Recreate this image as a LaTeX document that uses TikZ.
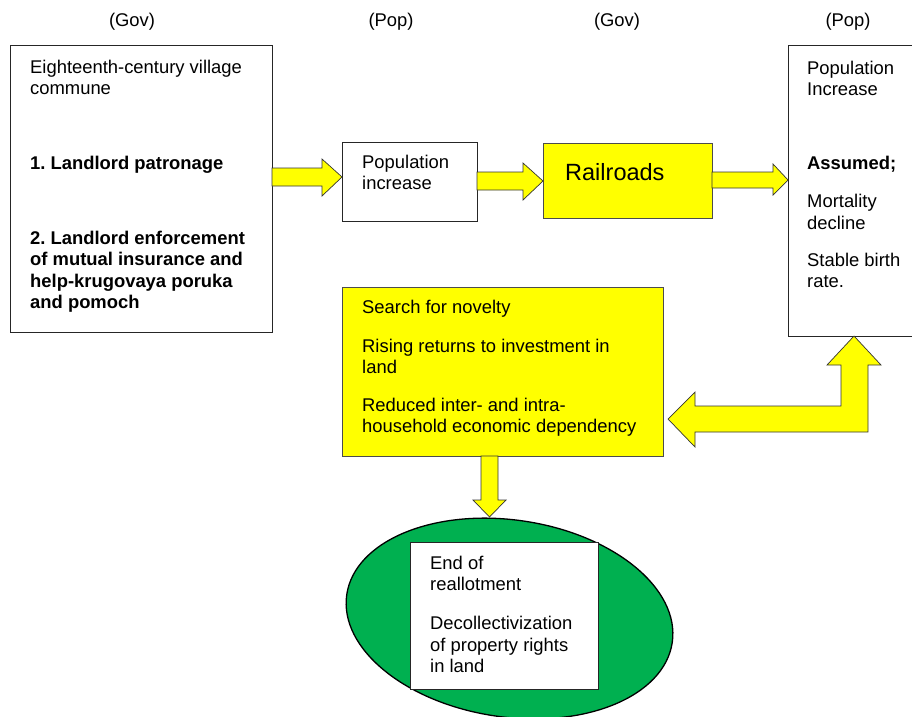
\documentclass[tikz,border=0pt]{standalone}
\usepackage{fontspec}
\setmainfont{Liberation Sans}
\usetikzlibrary{shapes.geometric}
\definecolor{hiyellow}{HTML}{FFFF00}
\definecolor{fieldgreen}{HTML}{00B050}

\begin{document}
\frenchspacing
\begin{tikzpicture}[x=1pt,y=-1pt,
  panel/.style={draw=black!85, line width=0.8pt, fill=white, inner sep=0pt, outer sep=0pt, anchor=north west},
  hipanel/.style={panel, fill=hiyellow, draw=black!70},
  % multi-line texts are placed by the baseline of their last line
  body/.style={anchor=base west, align=left, inner sep=0pt, font=\fontsize{18.4}{21.5}\selectfont},
  head/.style={anchor=base, inner sep=0pt, font=\fontsize{18.4}{21.5}\selectfont},
  blockarrow/.style={fill=hiyellow, draw=black!80, line width=0.7pt, line join=miter},
]
\useasboundingbox (0,0) rectangle (912,716);

% column headings
\node[head] (h1) at (132,26) {(Gov)};
\node[head] (h2) at (391,26) {(Pop)};
\node[head] (h3) at (617,26) {(Gov)};
\node[head] (h4) at (848,26) {(Pop)};

% boxes
\node[panel, minimum width=262pt, minimum height=287pt] (commune) at (10,45) {};
\node[panel, minimum width=135pt, minimum height=79pt] (popinc) at (342,142) {};
\node[hipanel, minimum width=169pt, minimum height=75pt] (rail) at (543,143) {};
\node[panel, minimum width=130pt, minimum height=291pt] (popright) at (788,45) {};
\node[hipanel, minimum width=321pt, minimum height=169pt] (novelty) at (342,287) {};

% texts
\node[body] (communetext) at (30,308.5) {Eighteenth-century village\\commune\\[53pt]
  \textbf{1. Landlord patronage}\\[53.5pt]
  \textbf{2. Landlord enforcement}\\\textbf{of mutual insurance and}\\
  \textbf{help-krugovaya poruka}\\\textbf{and pomoch}};
\node[body] (popinctext) at (362,189.5) {Population\\increase};
\node[body, font=\fontsize{23.5}{27}\selectfont] (railtext) at (565,180) {Railroads};
\node[body] (poprighttext) at (807,287.5) {Population\\Increase\\[52.5pt]
  \textbf{Assumed;}\\[16.5pt]Mortality\\decline\\[15.5pt]Stable birth\\rate.};
\node[body] (noveltytext) at (362,432.5) {Search for novelty\\[17.5pt]
  Rising returns to investment in\\land\\[16pt]
  Reduced inter- and intra-\\household economic dependency};

% outcome: ellipse with its box
\node[ellipse, draw=black, line width=1.3pt, fill=fieldgreen, inner sep=0pt,
      minimum width=329pt, minimum height=197pt, rotate=-8.4] (landellipse) at (509.5,618.5) {};
\node[panel, minimum width=188pt, minimum height=147pt] (reallot) at (410,542) {};
\node[body] (reallottext) at (430,672.5) {End of\\reallotment\\[17.5pt]
  Decollectivization\\of property rights\\in land};

% block arrows
\draw[blockarrow] (commune.east |- 0,168) -- (322,168) -- (322,159) -- (popinc.west |- 0,177)
  -- (322,196) -- (322,186) -- (commune.east |- 0,186) -- cycle;
\draw[blockarrow] (popinc.east |- 0,172) -- (523,172) -- (523,163) -- (rail.west |- 0,181)
  -- (523,200) -- (523,190) -- (popinc.east |- 0,190) -- cycle;
\draw[blockarrow] (rail.east |- 0,172) -- (773,172) -- (773,164) -- (popright.west |- 0,180)
  -- (773,195) -- (773,188) -- (rail.east |- 0,188) -- cycle;
\draw[blockarrow] (481,0 |- novelty.south) -- (481,500) -- (473,500) -- (489.5,517)
  -- (506,500) -- (498,500) -- (498,0 |- novelty.south) -- cycle;
\draw[blockarrow] (668,419) -- (695,392) -- (695,406) -- (841,406) -- (841,365) -- (827,365)
  -- (854,0 |- popright.south) -- (881,365) -- (868,365) -- (868,432) -- (695,432) -- (695,447) -- cycle;
\end{tikzpicture}
\end{document}
